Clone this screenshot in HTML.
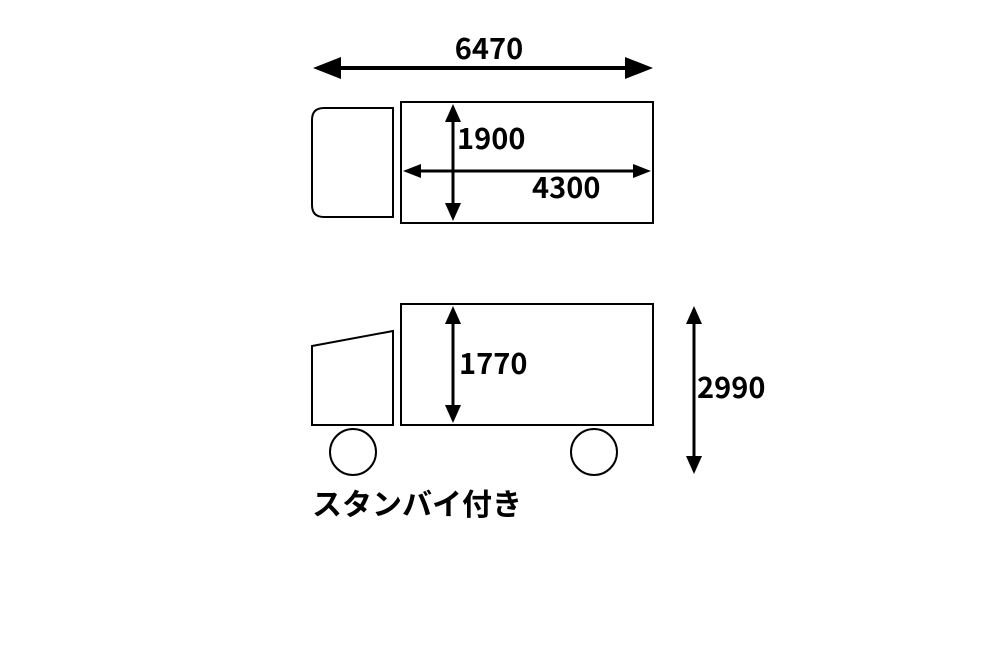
<!DOCTYPE html>
<html><head><meta charset="utf-8"><style>
html,body{margin:0;padding:0;background:#fff;width:1000px;height:650px;overflow:hidden}
text{font-family:"Noto Sans CJK JP","Liberation Sans",sans-serif;font-weight:bold;fill:#000}
</style></head><body>
<svg width="1000" height="650" viewBox="0 0 1000 650" xmlns="http://www.w3.org/2000/svg">
<g fill="none" stroke="#000" stroke-width="2">
<path d="M393 108 H324 Q312 108 312 120 V205 Q312 217 324 217 H393 Z"/>
<rect x="401" y="102" width="252" height="121"/>
<rect x="401" y="304" width="252" height="121"/>
<path d="M312 346 L393 331 V425 H312 Z"/>
<circle cx="353" cy="452" r="23"/>
<circle cx="594" cy="452" r="23"/>
</g>
<g stroke="#000" stroke-width="4">
<line x1="335" y1="68" x2="631" y2="68"/>
</g>
<g stroke="#000" stroke-width="3">
<line x1="453" y1="120" x2="453" y2="205"/>
<line x1="418" y1="171" x2="636" y2="171"/>
<line x1="453" y1="322" x2="453" y2="407"/>
<line x1="694" y1="322" x2="694" y2="458"/>
</g>
<g fill="#000">
<polygon points="313,68 341,57 341,79"/>
<polygon points="653,68 625,57 625,79"/>
<polygon points="453,104 445,122 461,122"/>
<polygon points="453,221 445,203 461,203"/>
<polygon points="403,171 421,164 421,178"/>
<polygon points="651,171 633,164 633,178"/>
<polygon points="453,306 445,324 461,324"/>
<polygon points="453,423 445,405 461,405"/>
<polygon points="694,306 686,324 702,324"/>
<polygon points="694,474 686,456 702,456"/>
</g>
<text x="489" y="59" font-size="29" text-anchor="middle">6470</text>
<text x="457" y="149" font-size="29">1900</text>
<text x="532" y="198" font-size="29">4300</text>
<text x="459" y="374" font-size="29">1770</text>
<text x="697" y="398" font-size="29">2990</text>
<text x="312" y="515" font-size="30">スタンバイ付き</text>
</svg>
</body></html>
